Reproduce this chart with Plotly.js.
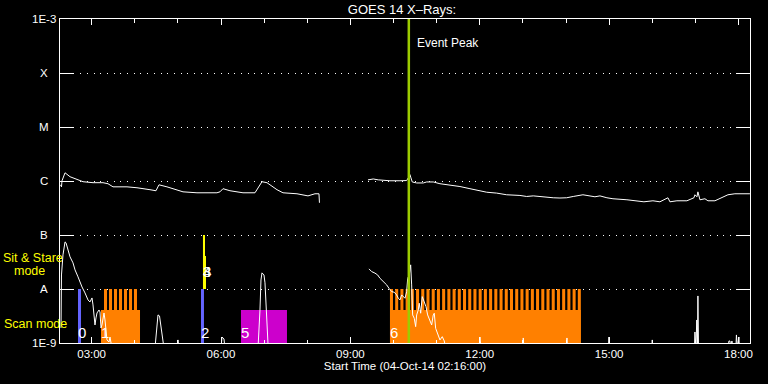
<!DOCTYPE html>
<html><head><meta charset="utf-8">
<script src="https://cdn.plot.ly/plotly-3.0.1.min.js"></script>
<style>html,body{margin:0;padding:0;background:#000;}#chart{width:768px;height:384px;}</style>
</head><body><div id="chart"></div>
<script>
// ---- axis data ----
const startHour = 2.2667;   // 04-Oct-14 02:16:00
const endHour = 18.2667;
const xTickHours = [3, 6, 9, 12, 15, 18];
const xTickText = ['03:00', '06:00', '09:00', '12:00', '15:00', '18:00'];
const yTickFlux = [1e-9, 1e-8, 1e-7, 1e-6, 1e-5, 1e-4, 1e-3];
const yTickText = ['1E-9', 'A', 'B', 'C', 'M', 'X', '1E-3'];

// ---- GOES 14 long channel (1-8 A), hours UT ----
const longTime = [2.278, 2.301, 2.313, 2.383, 2.499, 2.614, 2.800, 3.032, 3.264, 3.380, 3.495, 3.820, 4.052, 4.353, 4.492, 4.562, 4.747, 5.119, 5.443, 5.906, 5.976, 6.046, 6.208, 6.510, 6.788, 6.950, 7.066, 7.298, 7.437, 7.762, 8.017, 8.179, 8.272, 8.283, 8.85,
  9.408, 9.531, 9.647, 9.763, 9.918, 10.150, 10.305, 10.342, 10.382, 10.405, 10.435, 10.537, 10.690, 10.769, 10.922, 11.077, 11.309, 11.541, 11.773, 12.005, 12.160, 12.392, 12.624, 12.932, 13.088, 13.241, 13.473, 13.704, 13.860, 14.015, 14.168, 14.393, 14.671, 14.787, 14.949, 15.089, 15.413, 15.807, 16.016, 16.178, 16.318, 16.364, 16.410, 16.572, 16.804, 16.967, 16.990, 17.036, 17.059, 17.082, 17.106, 17.222, 17.291, 17.454, 17.616, 17.755, 17.917, 18.102, 18.265];
const longFlux = [8.5e-7, 7.8e-7, 1.01e-6, 1.42e-6, 1.20e-6, 1.10e-6, 9.7e-7, 9.3e-7, 9.3e-7, 8.9e-7, 7.8e-7, 7.8e-7, 7.5e-7, 6.9e-7, 6.6e-7, 8.5e-7, 7.8e-7, 6.3e-7, 6.05e-7, 6.05e-7, 6.3e-7, 7.2e-7, 6.6e-7, 6.05e-7, 6.05e-7, 9.7e-7, 9.3e-7, 6.9e-7, 6.05e-7, 5.8e-7, 5.3e-7, 5.8e-7, 5.8e-7, 3.95e-7, null,
  1.05e-6, 1.09e-6, 1.05e-6, 1.02e-6, 1.01e-6, 1.01e-6, 1.02e-6, 1.14e-6, 1.31e-6, 1.14e-6, 9.6e-7, 9.2e-7, 9.2e-7, 9.6e-7, 9.6e-7, 8.9e-7, 8.5e-7, 7.9e-7, 7.2e-7, 6.7e-7, 6.2e-7, 5.97e-7, 5.56e-7, 5.4e-7, 5.17e-7, 5.3e-7, 5.04e-7, 4.89e-7, 4.84e-7, 4.89e-7, 5.17e-7, 5.56e-7, 5.1e-7, 5.3e-7, 4.89e-7, 4.69e-7, 4.49e-7, 4.12e-7, 4.3e-7, 4.12e-7, 4.69e-7, 4.89e-7, 4.12e-7, 4.3e-7, 4.3e-7, 4.89e-7, 5.56e-7, 5.1e-7, 6.3e-7, 4.89e-7, 4.49e-7, 4.69e-7, 4.3e-7, 4.3e-7, 4.89e-7, 5.56e-7, 5.8e-7, 5.8e-7, 5.8e-7];

// ---- GOES 14 short channel (0.5-4 A), hours UT ----
const shortTime = [2.290, 2.301, 2.336, 2.383, 2.406, 2.452, 2.499, 2.568, 2.615, 2.684, 2.730, 2.777, 2.846, 2.916, 2.962, 3.009, 3.032, 3.078, 3.101, 3.125, 3.171, 3.194, 3.217, 3.240, 3.287, 3.310, 3.356, 3.403, 3.426, 3.472,
  4.469, 4.516, 4.539, 4.574, 4.609, 4.632, 4.655, 4.678, 4.980, 5.003, 5.026, 6.000, 6.023, 6.069, 6.092,
  6.858, 6.904, 6.927, 6.950, 6.997, 7.020, 7.043, 7.066, 7.089, 7.113, 8.295, 8.85,
  9.431, 9.494, 9.570, 9.633, 9.686, 9.763, 9.842, 9.895, 9.958, 10.018, 10.073, 10.111, 10.150, 10.189, 10.226, 10.266, 10.305, 10.329, 10.366, 10.398, 10.421, 10.444, 10.481, 10.514, 10.537, 10.574, 10.597, 10.630, 10.667, 10.706, 10.753, 10.792, 10.846, 10.885, 10.922, 10.945, 10.978, 11.024, 11.077, 11.131, 11.177, 11.210,
  11.982, 12.005, 12.028, 13.002, 13.009, 13.025, 14.010, 14.022, 14.034, 14.984, 14.996, 15.007, 15.993, 16.000, 16.007,
  16.978, 16.990, 17.013, 17.032, 17.048, 17.059, 17.073, 17.755, 17.778, 17.801, 17.824, 17.847, 17.871, 17.940, 17.952, 17.975, 18.010, 18.021, 18.265];
const shortFlux = [1.9e-9, 1.82e-8, 4.29e-8, 7.46e-8, 7.16e-8, 5.31e-8, 3.94e-8, 3.05e-8, 2.26e-8, 1.68e-8, 1.30e-8, 1.09e-8, 8.46e-9, 6.27e-9, 5.76e-9, 6.83e-9, 5.07e-9, 2.16e-9, 2.91e-9, 3.6e-9, 4.09e-9, 3.76e-9, 1.9e-9, 2.16e-9, 3.6e-9, 2.67e-9, 1.14e-9, 1.04e-9, 1.29e-9, 8e-10,
  8e-10, 2.67e-9, 3.31e-9, 3.17e-9, 1.98e-9, 1.74e-9, 1.09e-9, 8e-10, 8e-10, 1.14e-9, 8e-10, 8e-10, 1.29e-9, 1.19e-9, 8e-10,
  8e-10, 4.09e-9, 1.47e-8, 1.99e-8, 1.82e-8, 1.30e-8, 6.27e-9, 1.74e-9, 1e-9, 8e-10, 8e-10, null,
  2.36e-8, 2.10e-8, 1.97e-8, 1.82e-8, 1.58e-8, 1.37e-8, 1.19e-8, 1.03e-8, 8.94e-9, 8.71e-9, 7.77e-9, 6.74e-9, 6.27e-9, 7.77e-9, 7.22e-9, 6.74e-9, 8.94e-9, 1.58e-8, 1.82e-8, 2.80e-8, 1.19e-8, 3.31e-9, 2.87e-9, 2.01e-9, 3.31e-9, 4.09e-9, 5.45e-9, 3.56e-9, 7.22e-9, 5.83e-9, 4.71e-9, 3.31e-9, 2.67e-9, 2.16e-9, 3.31e-9, 3.56e-9, 1.87e-9, 1.41e-9, 1.14e-9, 1.31e-9, 1.09e-9, 8e-10,
  8e-10, 1.29e-9, 8e-10, 8e-10, 1.24e-9, 8e-10, 8e-10, 1.24e-9, 8e-10, 8e-10, 1.29e-9, 8e-10, 8e-10, 1.14e-9, 8e-10,
  8e-10, 1.6e-9, 8e-10, 2.67e-9, 8e-10, 7.44e-9, 8e-10, 8e-10, 1.09e-9, 1.09e-9, 8e-10, 1.09e-9, 8e-10, 8e-10, 1.41e-9, 8e-10, 1.29e-9, 8e-10, 8e-10];

// ---- observing modes ----
const modeFloor = 1e-9;
const modeA = 1e-8;
const scanBlockStart = [3.217, 9.918];
const scanBlockEnd = [4.122, 14.347];
const scanBlockTop = 4.1e-9;
const rasterStart = [3.287, 3.403, 3.519, 3.635, 3.751, 3.867, 3.982,
  9.918, 10.039, 10.160, 10.281, 10.402, 10.523, 10.644, 10.765, 10.886, 11.007, 11.128, 11.249, 11.370, 11.491, 11.612, 11.733, 11.854, 11.975, 12.096, 12.217, 12.338, 12.459, 12.580, 12.701, 12.822, 12.943, 13.064, 13.185, 13.306, 13.427, 13.548, 13.669, 13.790, 13.911, 14.032, 14.153, 14.274];
const rasterDuration = 0.07;
const pointingStart = [2.684, 5.536];
const pointingEnd = [2.754, 5.605];
const stareStart = [5.582, 5.582];
const stareEnd = [5.629, 5.652];
const stareTop = [1e-7, 4.1e-8];
const otherStart = [6.463];
const otherEnd = [7.530];
const otherTop = 4.1e-9;
const modeLabelText = ['0', '1', '2', '3', '4', '5', '6'];
const modeLabelTime = [2.684, 3.217, 5.536, 5.582, 5.582, 6.463, 9.918];
const modeLabelFlux = [1.57e-9, 1.57e-9, 1.57e-9, 2.07e-8, 2.07e-8, 1.57e-9, 1.57e-9];
const eventPeakHour = 10.355;

// ---- helpers ----
function boxes(starts, ends, bottoms, tops) {
  const x = [], y = [];
  for (let i = 0; i < starts.length; i++) {
    const b = Array.isArray(bottoms) ? bottoms[i] : bottoms;
    const t = Array.isArray(tops) ? tops[i] : tops;
    x.push(starts[i], ends[i], ends[i], starts[i], starts[i], null);
    y.push(b, b, t, t, b, null);
  }
  return {x, y};
}
function fillTrace(poly, color) {
  return {x: poly.x, y: poly.y, type: 'scatter', mode: 'lines', fill: 'toself',
    fillcolor: color, line: {width: 0, color: color}, hoverinfo: 'skip', connectgaps: false};
}

const orangeA = boxes(scanBlockStart, scanBlockEnd, modeFloor, scanBlockTop);
const orangeB = boxes(rasterStart, rasterStart.map(s => s + rasterDuration), modeFloor, modeA);
const orange = {x: orangeA.x.concat(orangeB.x), y: orangeA.y.concat(orangeB.y)};

const traces = [
  fillTrace(orange, '#ff8000'),
  fillTrace(boxes(pointingStart, pointingEnd, modeFloor, modeA), '#6464ff'),
  fillTrace(boxes(stareStart, stareEnd, modeA, stareTop), '#ffff00'),
  fillTrace(boxes(otherStart, otherEnd, modeFloor, otherTop), '#cc00cc'),
  {x: longTime, y: longFlux, type: 'scatter', mode: 'lines', line: {color: '#ffffff', width: 1, shape: 'linear'}, connectgaps: false, hoverinfo: 'skip'},
  {x: shortTime, y: shortFlux, type: 'scatter', mode: 'lines', line: {color: '#ffffff', width: 1, shape: 'linear'}, connectgaps: false, hoverinfo: 'skip'}
];

const FONT = 'Liberation Sans, Arial, sans-serif';
const annotations = [];
yTickFlux.forEach((v, i) => annotations.push({
  xref: 'paper', yref: 'y', x: -0.0225, y: Math.log10(v), text: yTickText[i],
  showarrow: false, xanchor: 'center', yanchor: 'middle', font: {family: FONT, size: 11.5, color: '#fff'}
}));
modeLabelText.forEach((t, i) => annotations.push({
  xref: 'x', yref: 'y', x: modeLabelTime[i], y: Math.log10(modeLabelFlux[i]), text: t,
  showarrow: false, xanchor: 'left', yanchor: 'middle', xshift: -2, font: {family: FONT, size: 15, color: '#fff'}
}));
annotations.push(
  {xref: 'paper', yref: 'paper', x: -0.084, y: (343 - 258) / 324, text: 'Sit & Stare', showarrow: false, xanchor: 'left', yanchor: 'middle', height: 12, borderpad: 0, valign: 'middle', font: {family: FONT, size: 12.5, color: '#ffff00'}},
  {xref: 'paper', yref: 'paper', x: -0.068, y: (343 - 271) / 324, text: 'mode', showarrow: false, xanchor: 'left', yanchor: 'middle', height: 12, borderpad: 0, valign: 'middle', font: {family: FONT, size: 12.5, color: '#ffff00'}},
  {xref: 'paper', yref: 'paper', x: -0.084, y: (343 - 323.5) / 324, text: 'Scan mode', showarrow: false, xanchor: 'left', yanchor: 'middle', font: {family: FONT, size: 12.5, color: '#ffff00'}},
  {xref: 'x', yref: 'paper', x: eventPeakHour, xshift: 6, y: (343 - 43) / 324, text: 'Event Peak', showarrow: false, xanchor: 'left', yanchor: 'middle', font: {family: FONT, size: 12, color: '#fff'}}
);

const layout = {
  width: 768, height: 384,
  margin: {l: 60, r: 18, t: 19, b: 41},
  paper_bgcolor: '#000', plot_bgcolor: '#000',
  showlegend: false, hovermode: false,
  title: {text: 'GOES 14 X\u2013Rays:', x: 0.4957, xref: 'paper', xanchor: 'center', y: 0.975, yref: 'container', yanchor: 'middle', font: {family: FONT, size: 13, color: '#fff'}},
  xaxis: {
    range: [startHour, endHour], type: 'linear',
    tickmode: 'array', tickvals: xTickHours, ticktext: xTickText,
    ticks: 'inside', ticklen: 6, tickwidth: 1, tickcolor: '#fff',
    minor: {dtick: 1, tick0: 0, ticks: 'inside', ticklen: 3.5, tickwidth: 1, tickcolor: '#fff'},
    showline: true, linecolor: '#fff', linewidth: 1, mirror: 'ticks',
    showgrid: false, zeroline: false,
    tickfont: {family: FONT, size: 11.5, color: '#fff'},
    title: {text: 'Start Time (04-Oct-14 02:16:00)', font: {family: FONT, size: 11.5, color: '#fff'}, standoff: 2}
  },
  yaxis: {
    type: 'log', range: [-9, -3],
    tickmode: 'array', tickvals: yTickFlux, showticklabels: false,
    ticks: 'inside', ticklen: 14, tickwidth: 1, tickcolor: '#fff',
    showline: true, linecolor: '#fff', linewidth: 1, mirror: 'ticks',
    showgrid: true, gridcolor: '#fff', gridwidth: 1, griddash: '1px,5.7px',
    zeroline: false
  },
  shapes: [{type: 'line', xref: 'x', yref: 'paper', x0: eventPeakHour, x1: eventPeakHour, y0: 0, y1: 1,
    line: {color: '#9ccc00', width: 2.5}, layer: 'above'}],
  annotations: annotations
};

Plotly.newPlot('chart', traces, layout, {staticPlot: true, displayModeBar: false});
</script></body></html>
